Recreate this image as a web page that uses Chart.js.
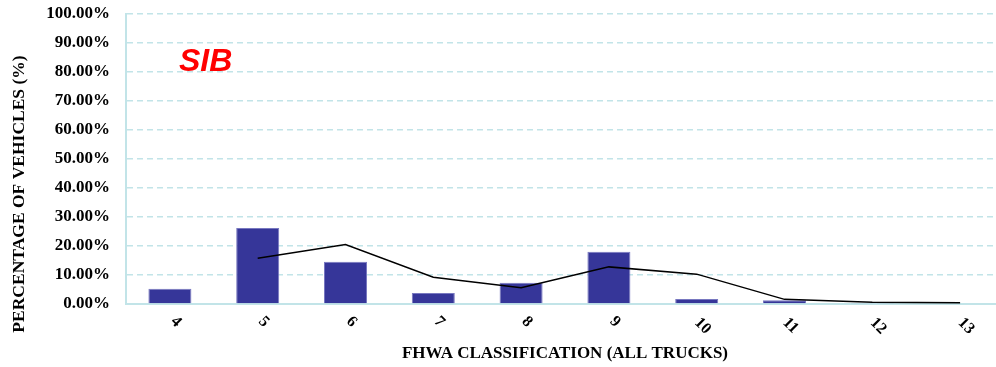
<!DOCTYPE html>
<html>
<head>
<meta charset="utf-8">
<script src="https://cdn.jsdelivr.net/npm/chart.js@4/dist/chart.umd.min.js"></script>
<style>
  html, body { margin: 0; padding: 0; background: #fff; overflow: hidden; }
  #wrap { width: 1004px; height: 367px; }
</style>
</head>
<body>
<div id="wrap"><canvas id="c" width="1004" height="367"></canvas></div>
<script>
const categories = ['4', '5', '6', '7', '8', '9', '10', '11', '12', '13'];
const barValues  = [5.3, 26.2, 14.6, 3.8, 7.3, 18.0, 1.7, 1.3, 0.2, 0.3];
const lineValues = [null, 15.8, 20.5, 9.2, 5.6, 12.8, 10.3, 1.6, 0.6, 0.4];
const yTicks = [0, 10, 20, 30, 40, 50, 60, 70, 80, 90, 100];
const chartLabel = 'SIB';
const xTitle = 'FHWA CLASSIFICATION (ALL TRUCKS)';
const yTitle = 'PERCENTAGE OF VEHICLES (%)';

const serif = '"Liberation Serif", "Times New Roman", serif';

const overlay = {
  id: 'overlay',
  afterDraw(chart) {
    const ctx = chart.ctx;
    const xs = chart.scales.x;
    const area = chart.chartArea;
    ctx.save();
    // x tick labels rotated clockwise
    ctx.fillStyle = '#000';
    ctx.font = 'bold 16px ' + serif;
    ctx.textAlign = 'center';
    ctx.textBaseline = 'middle';
    categories.forEach((c, i) => {
      const x = xs.getPixelForValue(i);
      const w = ctx.measureText(c).width;
      ctx.save();
      ctx.translate(x + 6, 318 + w * 0.5);
      ctx.rotate(Math.PI / 4);
      ctx.fillText(c, 0, 0);
      ctx.restore();
    });
    // x title
    ctx.font = 'bold 17px ' + serif;
    ctx.fillText(xTitle, (area.left + area.right) / 2, 354);
    // y title
    ctx.save();
    ctx.translate(19, 194);
    ctx.rotate(-Math.PI / 2);
    ctx.font = 'bold 17.5px ' + serif;
    ctx.fillText(yTitle, 0, 0);
    ctx.restore();
    // SIB label
    ctx.fillStyle = '#ff0000';
    ctx.font = 'italic bold 32px "Liberation Sans", Arial, sans-serif';
    ctx.textAlign = 'left';
    ctx.textBaseline = 'alphabetic';
    ctx.fillText(chartLabel, 179, 71);
    ctx.restore();
  }
};

new Chart(document.getElementById('c'), {
  data: {
    labels: categories,
    datasets: [
      {
        type: 'line',
        data: lineValues,
        borderColor: '#000000',
        borderWidth: 1.5,
        pointRadius: 0,
        tension: 0,
        spanGaps: false,
        order: 0
      },
      {
        type: 'bar',
        data: barValues,
        backgroundColor: '#363699',
        borderColor: '#7878c0',
        borderWidth: 1,
        categoryPercentage: 1,
        barPercentage: 0.49,
        order: 1
      }
    ]
  },
  options: {
    responsive: false,
    animation: false,
    devicePixelRatio: 1,
    layout: { padding: { top: 14, right: 0, left: 0, bottom: 0 } },
    plugins: { legend: { display: false }, tooltip: { enabled: false } },
    scales: {
      x: {
        type: 'category',
        grid: { display: false, drawTicks: false },
        border: { display: true, color: '#c2e4e8', width: 2 },
        ticks: { display: false },
        afterFit(s) { s.height = 63; }
      },
      y: {
        min: 0,
        max: 100,
        afterBuildTicks(s) { s.ticks = yTicks.map(v => ({ value: v })); },
        grid: { color: '#c2e4e8', lineWidth: 1.5, drawTicks: true, tickLength: 16, tickColor: 'rgba(0,0,0,0)' },
        border: { display: true, color: '#c2e4e8', width: 2, dash: [6, 4] },
        ticks: {
          padding: 0,
          color: '#000',
          font: { family: serif, size: 17, weight: 'bold' },
          callback: v => Number(v).toFixed(2) + '%'
        },
        afterFit(s) { s.width = 126; }
      }
    }
  },
  plugins: [overlay]
});
</script>
</body>
</html>
